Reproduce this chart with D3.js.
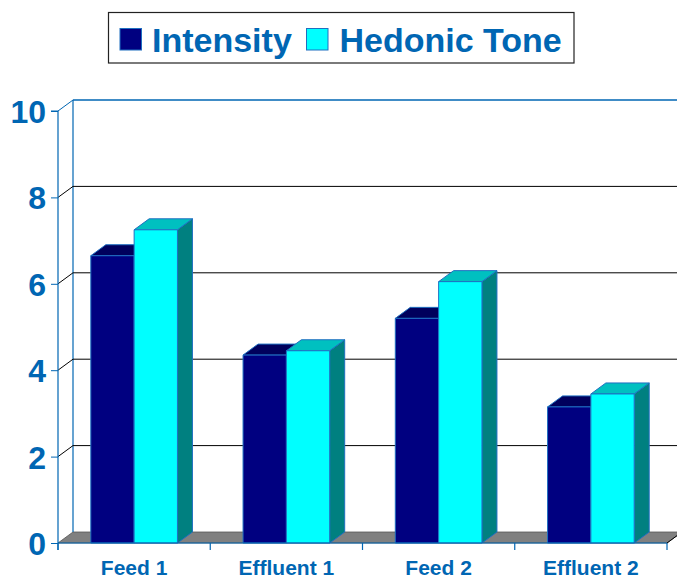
<!DOCTYPE html>
<html><head><meta charset="utf-8">
<script src="https://cdn.jsdelivr.net/npm/d3@7/dist/d3.min.js"></script>
<style>html,body{margin:0;padding:0;background:#fff;overflow:hidden}svg{display:block}text{font-family:Arial,"Liberation Sans",sans-serif;font-weight:bold}</style>
</head><body>
<script>
const categories = ["Feed 1", "Effluent 1", "Feed 2", "Effluent 2"];
const seriesNames = ["Intensity", "Hedonic Tone"];
const intensity = [6.65, 4.35, 5.2, 3.15];
const hedonicTone = [7.25, 4.45, 6.05, 3.45];
const yTicks = [0, 2, 4, 6, 8, 10];

const W = 677, H = 580;
const blue = "#0066B3";
const colors = {
  "Intensity": {front: "#000080", top: "#00005C", side: "#000050"},
  "Hedonic Tone": {front: "#00FFFF", top: "#00C0C0", side: "#008080"}
};
const DX = 15, DY = -11;
const x0 = 58, x1 = 667;

const svg = d3.select("body").append("svg").attr("width", W).attr("height", H);

const y = d3.scaleLinear().domain([0, 10]).range([543, 111]);
const x = d3.scaleBand().domain(categories).range([x0, x1]);
const bw = x.bandwidth();
const xs = d3.scaleBand().domain(seriesNames).range([32.8, bw - 32.8]);

const data = categories.map((c, i) => ({cat: c, vals: [
  {s: "Intensity", v: intensity[i]}, {s: "Hedonic Tone", v: hedonicTone[i]}]}));

// floor
const fy = y(0);
svg.append("path")
  .attr("d", `M${x0},${fy}L${x1},${fy}L${x1+DX},${fy+DY}L${x0+DX},${fy+DY}Z`)
  .attr("fill", "#808080").attr("stroke", "#555").attr("stroke-width", 0.8);

// left wall back edge
svg.append("line").attr("x1", x0+DX).attr("x2", x0+DX).attr("y1", y(0)+DY).attr("y2", y(10)+DY)
  .attr("stroke", blue).attr("stroke-width", 1.2);

// gridlines on back wall + diagonals on side wall
yTicks.forEach(t => {
  if (t === 0) return;
  const col = t === 10 ? blue : "#000";
  svg.append("line").attr("x1", x0+DX).attr("x2", W+20).attr("y1", y(t)+DY).attr("y2", y(t)+DY)
    .attr("stroke", col).attr("stroke-width", t === 10 ? 1.5 : 1);
  svg.append("line").attr("x1", x0).attr("x2", x0+DX).attr("y1", y(t)).attr("y2", y(t)+DY)
    .attr("stroke", col).attr("stroke-width", 1);
});

// bars
const outline = "#1F6FC0";
data.forEach(d => {
  d.vals.forEach(b => {
    const c = colors[b.s];
    const bx = x(d.cat) + xs(b.s), w = xs.bandwidth();
    const top = y(b.v), bot = y(0);
    const g = svg.append("g").attr("stroke", outline).attr("stroke-width", 1).attr("stroke-linejoin", "round");
    g.append("path").attr("fill", c.side)
      .attr("d", `M${bx+w},${bot}L${bx+w+DX},${bot+DY}L${bx+w+DX},${top+DY}L${bx+w},${top}Z`);
    g.append("path").attr("fill", c.top)
      .attr("d", `M${bx},${top}L${bx+DX},${top+DY}L${bx+w+DX},${top+DY}L${bx+w},${top}Z`);
    g.append("rect").attr("fill", c.front).attr("x", bx).attr("y", top).attr("width", w).attr("height", bot - top);
  });
});

// y axis
const yAxis = svg.append("g").attr("transform", `translate(${x0},0)`)
  .call(d3.axisLeft(y).tickValues(yTicks).tickSize(7).tickPadding(5));
yAxis.select(".domain").attr("stroke", blue).attr("stroke-width", 1.2).attr("d", `M-7,${y(10)}H0V${y(0)+7}`);
yAxis.selectAll(".tick line").attr("stroke", blue);
yAxis.selectAll(".tick text").attr("fill", blue).attr("font-size", 32).attr("dy", "0.36em")
  .style("font-family", "Arial, 'Liberation Sans', sans-serif").style("font-weight", "bold");

// x axis
svg.append("line").attr("x1", x0).attr("x2", x1).attr("y1", fy).attr("y2", fy).attr("stroke", blue).attr("stroke-width", 1);
const bounds = categories.map(c => x(c)).concat([x1]);
svg.selectAll(".xt").data(bounds).enter().append("line")
  .attr("x1", d => d).attr("x2", d => d).attr("y1", fy).attr("y2", fy + 7)
  .attr("stroke", blue).attr("stroke-width", 1.2);
svg.append("line").attr("x1", x1).attr("x2", x1+DX).attr("y1", fy).attr("y2", fy+DY).attr("stroke", "#000").attr("stroke-width", 1);
svg.selectAll(".xl").data(categories).enter().append("text")
  .attr("x", d => x(d) + bw / 2).attr("y", 575).attr("text-anchor", "middle")
  .attr("fill", blue).attr("font-size", 21).text(d => d);

// legend
const lg = svg.append("g");
lg.append("rect").attr("x", 108.5).attr("y", 12.5).attr("width", 465.5).attr("height", 50.5)
  .attr("fill", "#fff").attr("stroke", "#222").attr("stroke-width", 1.2);
const legItems = [{s: "Intensity", sx: 120, tx: 152}, {s: "Hedonic Tone", sx: 306.5, tx: 339.5}];
legItems.forEach(it => {
  lg.append("rect").attr("x", it.sx).attr("y", 28.5).attr("width", 21.5).attr("height", 21.5)
    .attr("fill", colors[it.s].front).attr("stroke", outline).attr("stroke-width", 1);
  lg.append("text").attr("x", it.tx).attr("y", 51.5).attr("fill", blue).attr("font-size", 34).text(it.s);
});
</script>
</body></html>
